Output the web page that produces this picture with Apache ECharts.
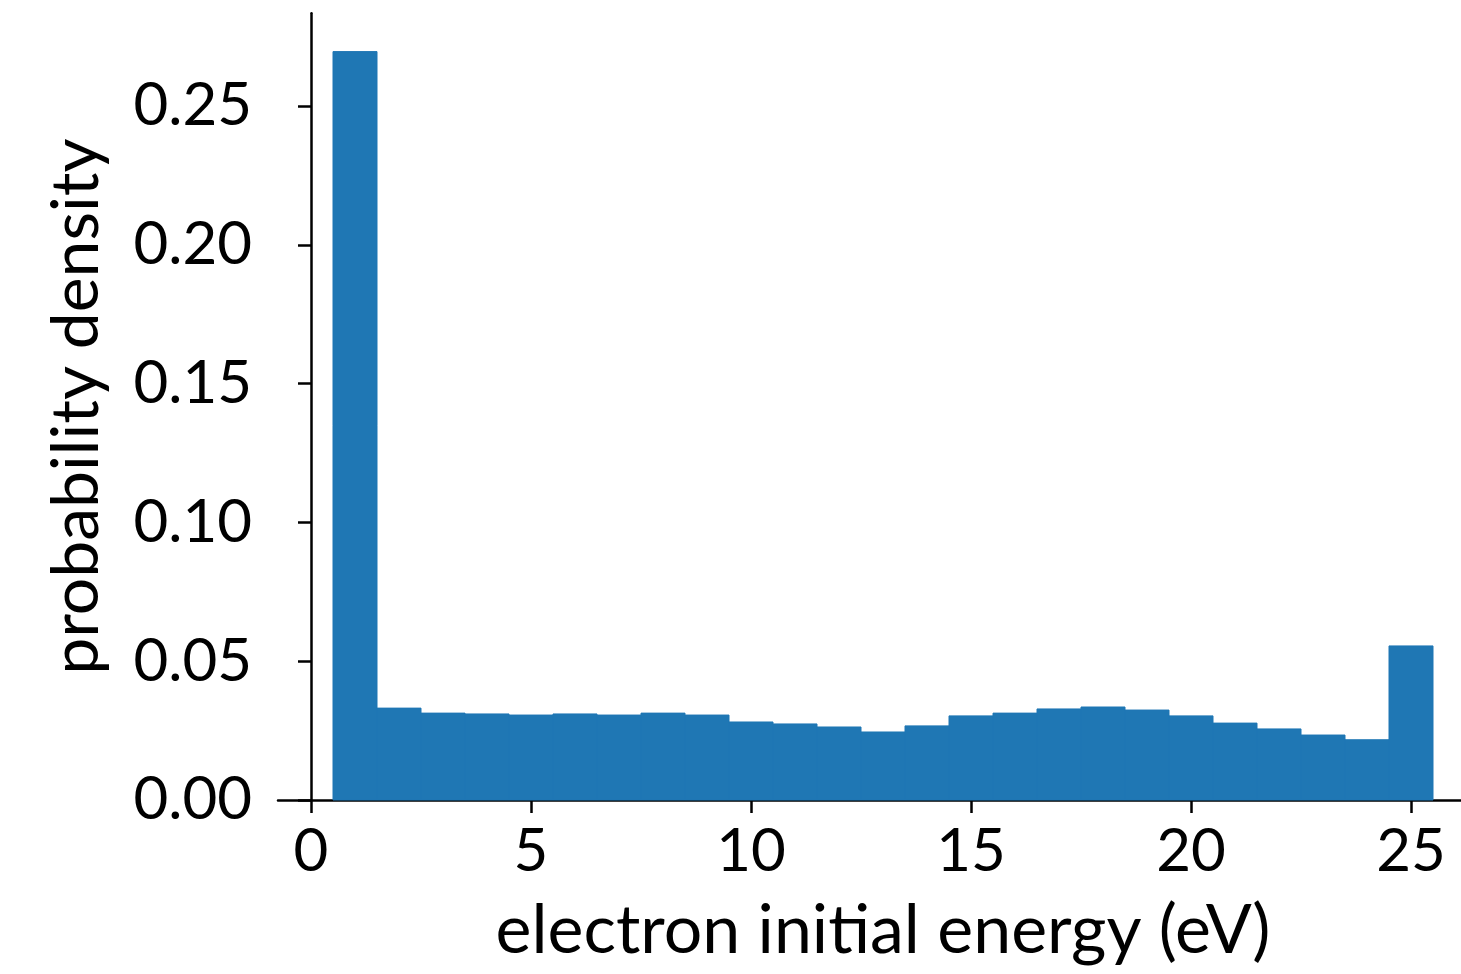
<!DOCTYPE html>
<html>
<head>
<meta charset="utf-8">
<script src="https://cdn.jsdelivr.net/npm/echarts@6/dist/echarts.min.js"></script>
<style>html,body{margin:0;padding:0;background:#fff}#c{width:1461px;height:974px}</style>
</head>
<body>
<div id="c"></div>
<script>
// histogram bins: left edges (eV), width 1
var binLeft = [0.5,1.5,2.5,3.5,4.5,5.5,6.5,7.5,8.5,9.5,10.5,11.5,12.5,13.5,14.5,15.5,16.5,17.5,18.5,19.5,20.5,21.5,22.5,23.5,24.5];
var binWidth = 1;
var density = [0.2696,0.0331,0.0313,0.0310,0.0306,0.0310,0.0306,0.0313,0.0306,0.0281,0.0274,0.0263,0.0245,0.0267,0.0303,0.0313,0.0328,0.0335,0.0324,0.0303,0.0277,0.0256,0.0234,0.0217,0.0555];
var xTicks = [0,5,10,15,20,25];
var yTicks = [0,0.05,0.10,0.15,0.20,0.25];

var chart = echarts.init(document.getElementById('c'), null, {renderer:'canvas'});
var data = binLeft.map(function(l,i){return [l, l+binWidth, density[i]];});
var FONT = 'Lato';
chart.setOption({
  animation:false,
  grid:{left:278, top:13.3, width:1210, height:786.7, containLabel:false, outerBoundsMode:'none'},
  xAxis:{
    type:'value', min:-0.75, max:26.75,
    name:'electron initial energy (eV)', nameLocation:'middle', nameGap:97,
    nameTextStyle:{fontFamily:FONT, fontSize:68, color:'#000'},
    axisLine:{show:true, onZero:false, lineStyle:{color:'#000', width:2.5}},
    axisTick:{show:true, customValues:xTicks, length:13, lineStyle:{color:'#000', width:2.5}},
    axisLabel:{customValues:xTicks, fontFamily:FONT, fontSize:60, color:'#000', margin:22},
    splitLine:{show:false}
  },
  yAxis:{
    type:'value', min:0, max:0.2834,
    name:'probability density', nameLocation:'middle', nameGap:168,
    nameTextStyle:{fontFamily:FONT, fontSize:66, color:'#000'},
    axisLine:{show:true, lineStyle:{color:'#000', width:2.5}},
    axisTick:{show:true, customValues:yTicks, length:13, lineStyle:{color:'#000', width:2.5}},
    axisLabel:{customValues:yTicks, fontFamily:FONT, fontSize:60, color:'#000', margin:26,
      formatter:function(v){return v.toFixed(2);}},
    splitLine:{show:false}
  },
  series:[{
    type:'custom',
    data:data,
    encode:{x:[0,1], y:2},
    renderItem:function(params, api){
      var p0 = api.coord([api.value(0), api.value(2)]);
      var p1 = api.coord([api.value(1), 0]);
      return {type:'rect', shape:{x:p0[0], y:p0[1], width:p1[0]-p0[0], height:p1[1]-p0[1]},
        style:{fill:'#1f77b4', stroke:'#1f77b4', lineWidth:1}};
    }
  }]
});
</script>
</body>
</html>
